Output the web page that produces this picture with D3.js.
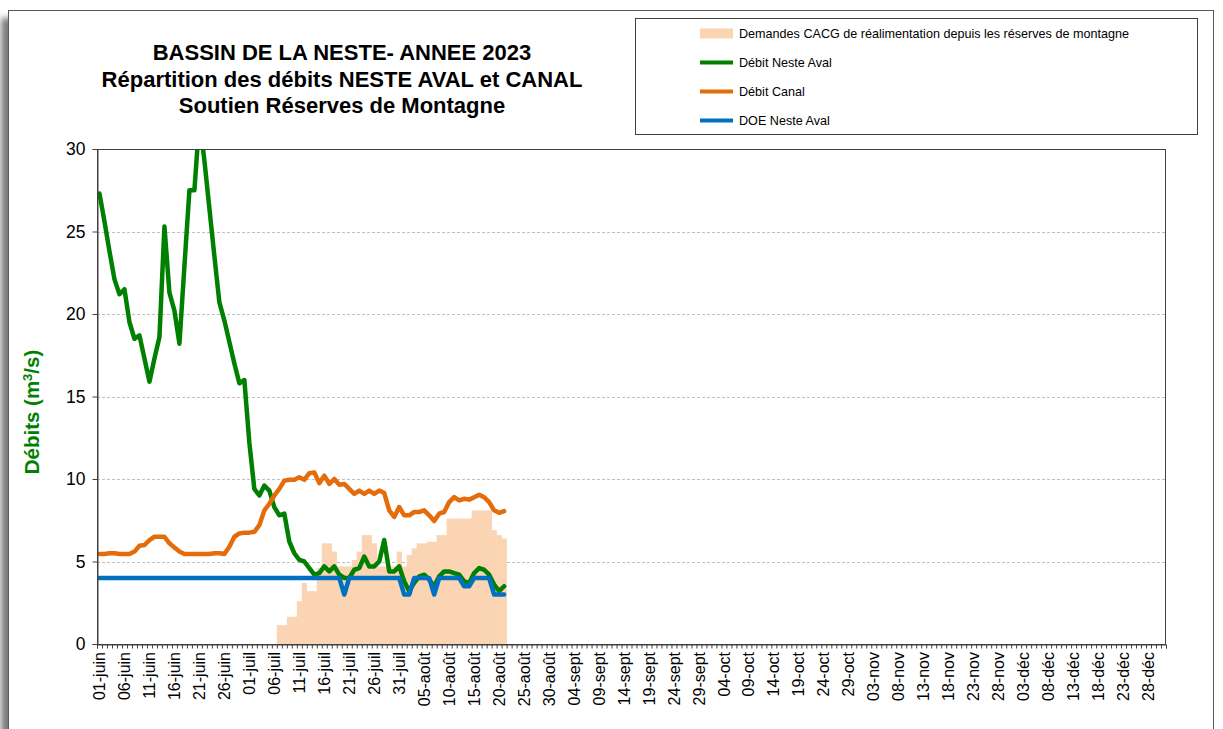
<!DOCTYPE html>
<html><head><meta charset="utf-8">
<script src="https://cdn.jsdelivr.net/npm/d3@7"></script>
<style>body{margin:0;background:#fff;} svg{display:block;font-family:"Liberation Sans",Arial,sans-serif;}</style>
</head><body><svg id="c" width="1223" height="729"></svg>
<script>
// ---------- DATA ----------
const titleLines = ["BASSIN DE LA NESTE- ANNEE 2023", "Répartition des débits NESTE AVAL et CANAL", "Soutien Réserves de Montagne"];
const tickLabels = ["01-juin","06-juin","11-juin","16-juin","21-juin","26-juin","01-juil","06-juil","11-juil","16-juil","21-juil","26-juil","31-juil","05-août","10-août","15-août","20-août","25-août","30-août","04-sept","09-sept","14-sept","19-sept","24-sept","29-sept","04-oct","09-oct","14-oct","19-oct","24-oct","29-oct","03-nov","08-nov","13-nov","18-nov","23-nov","28-nov","03-déc","08-déc","13-déc","18-déc","23-déc","28-déc"];
const yTicks = [0,5,10,15,20,25,30];
// Débit Neste Aval (m3/s), daily from 01-juin
const nesteAval = [27.3,25.6,23.8,22.1,21.2,21.5,19.5,18.5,18.7,17.3,15.9,17.3,18.6,25.3,21.3,20.2,18.2,22.9,27.5,27.5,
  31.8,29.3,26.4,23.5,20.7,19.6,18.3,17.0,15.8,16.0,12.2,9.4,9.0,9.6,9.3,8.3,7.8,7.9,6.2,5.5,
  5.1,5.0,4.6,4.2,4.3,4.7,4.4,4.7,4.2,4.0,4.0,4.5,4.6,5.3,4.7,4.7,5.0,6.3,4.4,4.4,
  4.7,3.8,3.2,3.7,4.1,4.2,3.9,3.5,4.1,4.4,4.4,4.3,4.2,3.8,3.7,4.3,4.6,4.5,4.2,3.6,3.2,3.5];
// Débit Canal
const debitCanal = [5.45,5.45,5.5,5.5,5.45,5.45,5.45,5.6,5.95,6.0,6.3,6.5,6.5,6.5,6.1,5.85,5.6,5.45,5.45,5.45,
  5.45,5.45,5.45,5.5,5.5,5.45,5.9,6.5,6.7,6.75,6.75,6.8,7.2,8.1,8.5,9.0,9.4,9.9,9.95,9.95,
  10.1,9.95,10.35,10.4,9.75,10.2,9.7,10.0,9.65,9.7,9.4,9.1,9.3,9.1,9.3,9.1,9.3,9.15,8.1,7.7,
  8.3,7.8,7.8,8.0,8.0,8.1,7.8,7.45,7.9,8.0,8.6,8.9,8.7,8.8,8.75,8.9,9.05,8.9,8.6,8.1,7.95,8.05];
// DOE Neste Aval
const doeNeste = [4,4,4,4,4,4,4,4,4,4,4,4,4,4,4,4,4,4,4,4,
  4,4,4,4,4,4,4,4,4,4,4,4,4,4,4,4,4,4,4,4,
  4,4,4,4,4,4,4,4,4,3,4,4,4,4,4,4,4,4,4,4,
  4,3,3,4,4,4,4,3,4,4,4,4,4,3.5,3.5,4,4,4,4,3,3,3];
// Demandes CACG de réalimentation (columns)
const demandes = [0,0,0,0,0,0,0,0,0,0,0,0,0,0,0,0,0,0,0,0,
  0,0,0,0,0,0,0,0,0,0,0,0,0,0,0,0,1.15,1.15,1.65,1.65,
  2.6,3.7,3.2,3.2,4.6,6.1,6.1,5.6,4.7,4.7,4.7,5.1,5.6,6.6,6.6,6.1,4.7,4.7,4.7,4.7,
  5.6,4.7,5.4,5.8,6.1,6.1,6.2,6.2,6.6,6.6,7.6,7.6,7.6,7.6,7.6,8.1,8.1,8.1,8.1,6.9,6.6,6.4];
const seriesNames = ["Demandes CACG de réalimentation depuis les réserves de montagne","Débit Neste Aval","Débit Canal","DOE Neste Aval"];
const seriesColors = ["#FBD4B4","#008000","#E46C0A","#0070C0"];

// categories: every day from 01 June 2023 to 31 Dec 2023
const days = d3.timeDay.range(new Date(2023,5,1), new Date(2024,0,1));
const categories = days.map((d,i)=>i);

// ---------- CHART ----------
const svg = d3.select("#c");
const defs = svg.append("defs");
const f = defs.append("filter").attr("id","sh").attr("x","-5%").attr("y","-5%").attr("width","110%").attr("height","110%");
f.append("feGaussianBlur").attr("stdDeviation",3);

// outer frame with shadow
svg.append("rect").attr("x",1).attr("y",18).attr("width",1205).attr("height",760).attr("fill","#7a7a7a").attr("filter","url(#sh)");
svg.append("rect").attr("x",8.5).attr("y",10.5).attr("width",1205).attr("height",760).attr("fill","#fff").attr("stroke","#595959").attr("stroke-width",1);

const L=97, R=1166, T=149, B=644;
const x = d3.scaleBand().domain(categories).range([L,R]).padding(0);
const xc = i => x(i) + x.bandwidth()/2;
const y = d3.scaleLinear().domain([0,30]).range([B,T]);

defs.append("clipPath").attr("id","plot").append("rect").attr("x",L).attr("y",T).attr("width",R-L).attr("height",B-T);

// grid
svg.append("g").selectAll("line").data(yTicks.filter(v=>v>0&&v<30)).join("line")
  .attr("x1",L).attr("x2",R).attr("y1",d=>Math.round(y(d))+0.5).attr("y2",d=>Math.round(y(d))+0.5)
  .attr("stroke","#c0c0c0").attr("stroke-dasharray","3,2");

const plot = svg.append("g").attr("clip-path","url(#plot)");
// bars
plot.append("g").selectAll("rect").data(demandes.map((v,i)=>({v,i})).filter(d=>d.v>0)).join("rect")
  .attr("x",d=>x(d.i)).attr("width",x.bandwidth()+0.3)
  .attr("y",d=>y(d.v)).attr("height",d=>B-y(d.v)).attr("fill",seriesColors[0]);

const line = d3.line().x((d,i)=>xc(i)).y(d=>y(d));
[[nesteAval,1],[debitCanal,2],[doeNeste,3]].forEach(([arr,k])=>{
  plot.append("path").datum(arr).attr("d",line).attr("fill","none")
    .attr("stroke",seriesColors[k]).attr("stroke-width",4.5).attr("stroke-linejoin","round").attr("stroke-linecap","round");
});

// plot border
svg.append("rect").attr("x",L+0.5).attr("y",T+0.5).attr("width",R-L-1).attr("height",B-T).attr("fill","none").attr("stroke","#404040");

// y axis
const ya = svg.append("g").attr("transform",`translate(${L+0.5},0)`)
  .call(d3.axisLeft(y).tickValues(yTicks).tickSize(5).tickPadding(7).tickFormat(d3.format("d")));
ya.select(".domain").attr("stroke","#404040");
ya.selectAll(".tick line").attr("stroke","#404040");
ya.selectAll("text").attr("font-size",17.5).attr("fill","#000").attr("font-family","Liberation Sans, Arial, sans-serif");

// x axis minor ticks
const xl = d3.scaleLinear().domain([0,categories.length]).range([L,R]);
const xm = svg.append("g").attr("transform",`translate(0,${B+0.5})`)
  .call(d3.axisBottom(xl).tickValues(d3.range(categories.length+1)).tickSize(4).tickFormat(""));
xm.select(".domain").attr("stroke","#404040");
xm.selectAll(".tick line").attr("stroke","#404040");
// x labels
const xa = svg.append("g").attr("transform",`translate(0,${B})`)
  .call(d3.axisBottom(x).tickValues(tickLabels.map((t,j)=>j*5)).tickSize(0).tickFormat(i=>tickLabels[i/5]));
xa.select(".domain").remove();
xa.selectAll("text").attr("transform","rotate(-90)").attr("text-anchor","end")
  .attr("x",-8).attr("y",0).attr("dy","0.35em").attr("font-size",16).attr("fill","#000")
  .attr("font-family","Liberation Sans, Arial, sans-serif");

// y title
const yt = svg.append("text").attr("transform","translate(39,412) rotate(-90)").attr("text-anchor","middle")
  .attr("font-size",20.5).attr("font-weight","bold").attr("fill","#008000");
yt.append("tspan").text("Débits (m");
yt.append("tspan").text("3").attr("font-size",13).attr("dy",-7);
yt.append("tspan").text("/s)").attr("dy",7);

// title
svg.append("g").selectAll("text").data(titleLines).join("text")
  .attr("x",342).attr("y",(d,i)=>60+i*26.5).attr("text-anchor","middle")
  .attr("font-size",22).attr("font-weight","bold").attr("fill","#000").text(d=>d);

// legend
const lg = svg.append("g");
lg.append("rect").attr("x",635.5).attr("y",18.5).attr("width",562).attr("height",116).attr("fill","#fff").attr("stroke","#404040");
seriesNames.forEach((n,i)=>{
  const yy = 33.5 + i*29;
  if(i===0) lg.append("rect").attr("x",700).attr("y",yy-5).attr("width",33).attr("height",10).attr("fill",seriesColors[0]);
  else lg.append("line").attr("x1",700).attr("x2",733).attr("y1",yy).attr("y2",yy).attr("stroke",seriesColors[i]).attr("stroke-width",4);
  lg.append("text").attr("x",739).attr("y",yy).attr("dy","0.35em").attr("font-size",12.6).attr("fill","#000").text(n);
});
</script></body></html>
